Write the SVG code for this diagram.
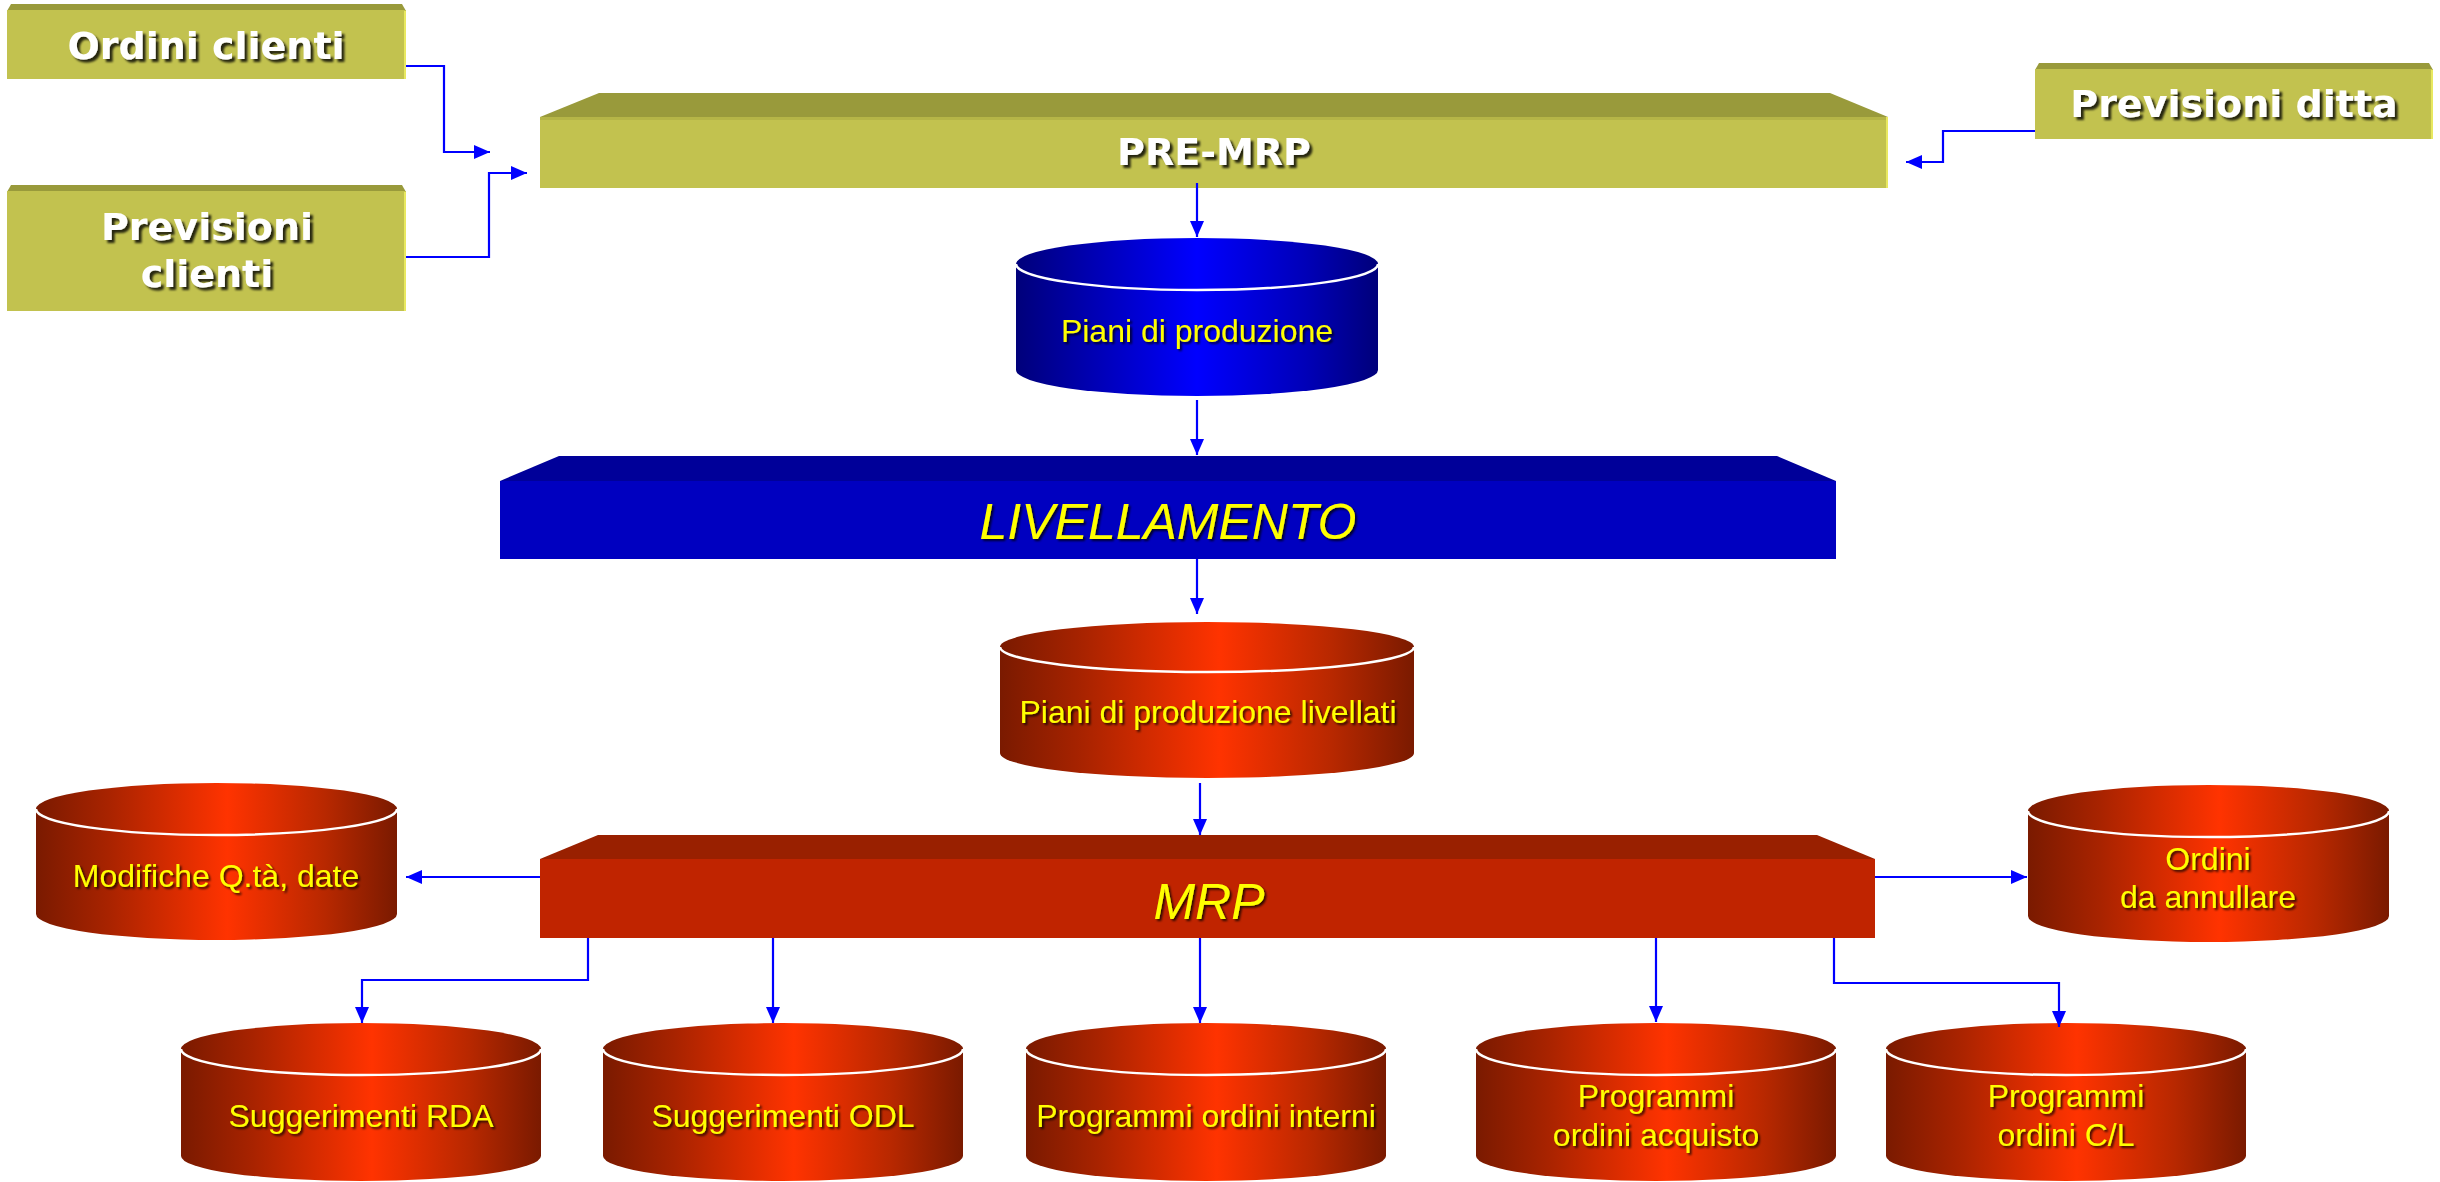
<svg xmlns="http://www.w3.org/2000/svg" width="2440" height="1182" viewBox="0 0 2440 1182">
<defs>
  <linearGradient id="gRed" x1="0" y1="0" x2="1" y2="0">
    <stop offset="0" stop-color="#7A1A00"/>
    <stop offset="0.2" stop-color="#A82300"/>
    <stop offset="0.53" stop-color="#FF3300"/>
    <stop offset="0.8" stop-color="#B82800"/>
    <stop offset="1" stop-color="#7A1A00"/>
  </linearGradient>
  <linearGradient id="gBlue" x1="0" y1="0" x2="1" y2="0">
    <stop offset="0" stop-color="#00007A"/>
    <stop offset="0.2" stop-color="#0000B0"/>
    <stop offset="0.5" stop-color="#0000FF"/>
    <stop offset="0.8" stop-color="#0000B8"/>
    <stop offset="1" stop-color="#00007A"/>
  </linearGradient>
  <filter id="shY" x="-10%" y="-30%" width="120%" height="160%">
    <feDropShadow dx="2" dy="2" stdDeviation="0.8" flood-color="#000" flood-opacity="0.75"/>
  </filter>
  <filter id="shW" x="-10%" y="-30%" width="120%" height="160%">
    <feDropShadow dx="3" dy="3" stdDeviation="1" flood-color="#000" flood-opacity="0.8"/>
  </filter>
  <marker id="arr" markerUnits="userSpaceOnUse" markerWidth="16" markerHeight="14" refX="16" refY="7" orient="auto">
    <path d="M0,0 L16,7 L0,14 Z" fill="#0000FF"/>
  </marker>
  <style>
    .olive { fill: #C2C24F; }
    .oliveTop { fill: #999A3B; }
    .oliveEdge { stroke: #E8E860; stroke-width: 2; fill: none; }
    .wt { font-family: "DejaVu Sans", Verdana, sans-serif; font-weight: bold; font-size: 38px; fill: #FFFFFF; text-anchor: middle; filter: url(#shW); }
    .yt { font-family: "Liberation Sans", Arial, sans-serif; font-size: 32px; fill: #FFFF00; text-anchor: middle; filter: url(#shY); }
    .yi { font-family: "Liberation Sans", Arial, sans-serif; font-style: italic; font-size: 50px; fill: #FFFF00; text-anchor: middle; filter: url(#shY); }
    .rim { fill: none; stroke: #FFFFFF; stroke-width: 2.5; }
    .conn { fill: none; stroke: #0000FF; stroke-width: 2.2; marker-end: url(#arr); }
  </style>
</defs>

<g id="ordini-clienti">
  <polygon class="oliveTop" points="7,11 11,4 402,4 406,11"/>
  <rect class="olive" x="7" y="10" width="399" height="69"/>
  <line class="oliveEdge" x1="405" y1="11" x2="405" y2="79"/>
  <text class="wt" x="206" y="59">Ordini clienti</text>
</g>

<g id="previsioni-clienti">
  <polygon class="oliveTop" points="7,192 11,185 402,185 406,192"/>
  <rect class="olive" x="7" y="191" width="399" height="120"/>
  <line class="oliveEdge" x1="405" y1="192" x2="405" y2="311"/>
  <text class="wt" x="207" y="240">Previsioni</text>
  <text class="wt" x="207" y="287">clienti</text>
</g>

<g id="previsioni-ditta">
  <polygon class="oliveTop" points="2035,70 2039,63 2429,63 2433,70"/>
  <rect class="olive" x="2035" y="69" width="398" height="70"/>
  <line class="oliveEdge" x1="2432" y1="70" x2="2432" y2="139"/>
  <text class="wt" x="2234" y="117">Previsioni ditta</text>
</g>

<g id="pre-mrp">
  <polygon class="oliveTop" points="540,117 599,93 1830,93 1888,117"/>
  <rect class="olive" x="540" y="117" width="1348" height="71"/>
  <rect x="540" y="117" width="1348" height="3" fill="#B5B547"/>
  <line class="oliveEdge" x1="1887" y1="117" x2="1887" y2="188"/>
  <text class="wt" x="1214" y="165">PRE-MRP</text>
</g>

<g id="piani-produzione">
  <path d="M1016,264 V370 A181,26 0 0 0 1378,370 V264 Z" fill="url(#gBlue)"/>
  <ellipse cx="1197" cy="264" rx="181" ry="26" fill="url(#gBlue)"/>
  <path class="rim" d="M1016,264 A181,26 0 0 0 1378,264"/>
  <text class="yt" x="1197" y="342">Piani di produzione</text>
</g>

<g id="livellamento">
  <polygon points="500,481 559,456 1777,456 1836,481" fill="#000099"/>
  <rect x="500" y="481" width="1336" height="78" fill="#0000C0"/>
  <text class="yi" x="1168" y="539">LIVELLAMENTO</text>
</g>

<g id="piani-livellati">
  <path d="M1000,647 V753 A207,25 0 0 0 1414,753 V647 Z" fill="url(#gRed)"/>
  <ellipse cx="1207" cy="647" rx="207" ry="25" fill="url(#gRed)"/>
  <path class="rim" d="M1000,647 A207,25 0 0 0 1414,647"/>
  <text class="yt" x="1208" y="723">Piani di produzione livellati</text>
</g>

<g id="mrp">
  <polygon points="540,859 598,835 1817,835 1875,859" fill="#992000"/>
  <rect x="540" y="859" width="1335" height="79" fill="#C02400"/>
  <text class="yi" x="1209" y="919">MRP</text>
</g>

<g id="modifiche">
  <path d="M36,809 V914 A180.5,26 0 0 0 397,914 V809 Z" fill="url(#gRed)"/>
  <ellipse cx="216.5" cy="809" rx="180.5" ry="26" fill="url(#gRed)"/>
  <path class="rim" d="M36,809 A180.5,26 0 0 0 397,809"/>
  <text class="yt" x="216" y="887">Modifiche Q.tà, date</text>
</g>

<g id="ordini-annullare">
  <path d="M2028,811 V916 A180.5,26 0 0 0 2389,916 V811 Z" fill="url(#gRed)"/>
  <ellipse cx="2208.5" cy="811" rx="180.5" ry="26" fill="url(#gRed)"/>
  <path class="rim" d="M2028,811 A180.5,26 0 0 0 2389,811"/>
  <text class="yt" x="2208" y="870">Ordini</text>
  <text class="yt" x="2208" y="908">da annullare</text>
</g>

<g id="suggerimenti-rda">
  <path d="M181,1049 V1156 A180,25 0 0 0 541,1156 V1049 Z" fill="url(#gRed)"/>
  <ellipse cx="361" cy="1049" rx="180" ry="26" fill="url(#gRed)"/>
  <path class="rim" d="M181,1049 A180,26 0 0 0 541,1049"/>
  <text class="yt" x="361" y="1127">Suggerimenti RDA</text>
</g>

<g id="suggerimenti-odl">
  <path d="M603,1049 V1156 A180,25 0 0 0 963,1156 V1049 Z" fill="url(#gRed)"/>
  <ellipse cx="783" cy="1049" rx="180" ry="26" fill="url(#gRed)"/>
  <path class="rim" d="M603,1049 A180,26 0 0 0 963,1049"/>
  <text class="yt" x="783" y="1127">Suggerimenti ODL</text>
</g>

<g id="programmi-interni">
  <path d="M1026,1049 V1156 A180,25 0 0 0 1386,1156 V1049 Z" fill="url(#gRed)"/>
  <ellipse cx="1206" cy="1049" rx="180" ry="26" fill="url(#gRed)"/>
  <path class="rim" d="M1026,1049 A180,26 0 0 0 1386,1049"/>
  <text class="yt" x="1206" y="1127">Programmi ordini interni</text>
</g>

<g id="programmi-acquisto">
  <path d="M1476,1049 V1156 A180,25 0 0 0 1836,1156 V1049 Z" fill="url(#gRed)"/>
  <ellipse cx="1656" cy="1049" rx="180" ry="26" fill="url(#gRed)"/>
  <path class="rim" d="M1476,1049 A180,26 0 0 0 1836,1049"/>
  <text class="yt" x="1656" y="1107">Programmi</text>
  <text class="yt" x="1656" y="1146">ordini acquisto</text>
</g>

<g id="programmi-cl">
  <path d="M1886,1049 V1156 A180,25 0 0 0 2246,1156 V1049 Z" fill="url(#gRed)"/>
  <ellipse cx="2066" cy="1049" rx="180" ry="26" fill="url(#gRed)"/>
  <path class="rim" d="M1886,1049 A180,26 0 0 0 2246,1049"/>
  <text class="yt" x="2066" y="1107">Programmi</text>
  <text class="yt" x="2066" y="1146">ordini C/L</text>
</g>

<g id="connectors">
  <path class="conn" d="M406,66 H444 V152 H490"/>
  <path class="conn" d="M406,257 H489 V173 H527"/>
  <path class="conn" d="M2035,131 H1943 V162 H1906"/>
  <path class="conn" d="M1197,183 V237"/>
  <path class="conn" d="M1197,400 V455"/>
  <path class="conn" d="M1197,559 V614"/>
  <path class="conn" d="M1200,783 V835"/>
  <path class="conn" d="M540,877 H406"/>
  <path class="conn" d="M1875,877 H2027"/>
  <path class="conn" d="M588,938 V980 H362 V1023"/>
  <path class="conn" d="M773,938 V1023"/>
  <path class="conn" d="M1200,938 V1023"/>
  <path class="conn" d="M1656,938 V1022"/>
  <path class="conn" d="M1834,938 V983 H2059 V1027"/>
</g>
</svg>
